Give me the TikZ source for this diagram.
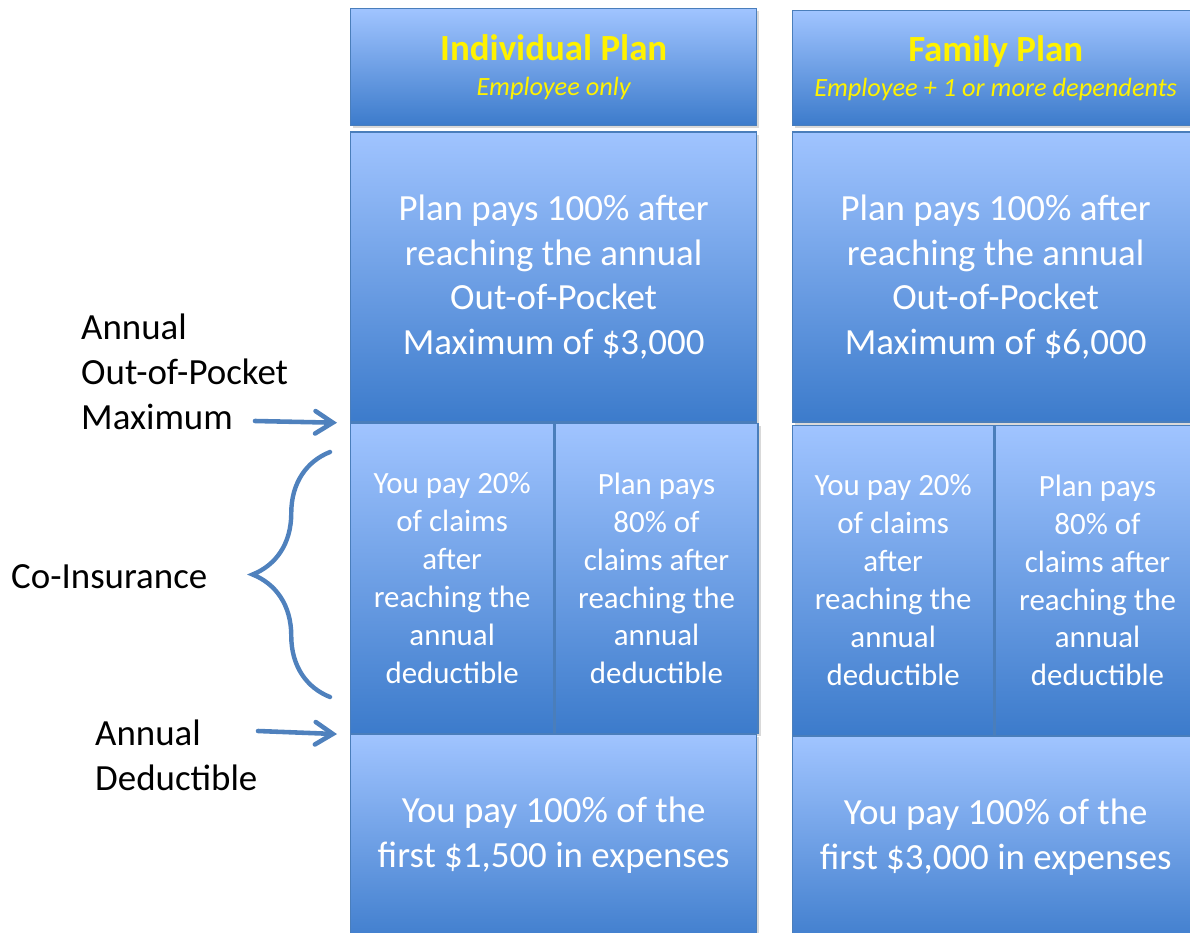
\documentclass[tikz,border=0pt]{standalone}
\usepackage{fontspec}
\setmainfont{Carlito}
\usepackage{xcolor}
\usetikzlibrary{positioning,shadows,arrows.meta,decorations.pathreplacing}
\definecolor{boxTop}{HTML}{A0C4FF}
\definecolor{boxBottom}{HTML}{3C7BCB}
\definecolor{boxLine}{HTML}{4A7EBB}
\definecolor{pointerBlue}{HTML}{4F81BD}

\begin{document}
\begin{tikzpicture}[x=0.02cm, y=-0.02cm,
planbox/.style={rectangle, draw=boxLine, line width=0.8pt, top color=boxTop, bottom color=boxBottom, drop shadow={opacity=0.3, shadow xshift=0.5mm, shadow yshift=-0.5mm}, inner sep=0pt, align=center, text=white, font=\fontsize{21}{25.6}\selectfont},
headbox/.style={planbox, text=yellow, font=\fontsize{21}{20}\selectfont\bfseries},
splitbox/.style={planbox, font=\fontsize{17.6}{21.6}\selectfont},
sidelabel/.style={anchor=west, align=left, font=\fontsize{21}{25.6}\selectfont},
pointer/.style={draw=pointerBlue, line width=2.6pt, line cap=round, -{Straight Barb[length=0.35cm, width=0.45cm, line cap=round]}},
bracket/.style={draw=pointerBlue, line width=2.5pt, line cap=round, decorate, decoration={brace, amplitude=1.55cm}},
]
\useasboundingbox (0,0) rectangle (1190,933);

% individual plan
\node[headbox, anchor=north west, minimum width=8.12cm, minimum height=2.34cm] (indHead) at (350,8) {Individual Plan\\{\itshape\mdseries\fontsize{15}{17}\selectfont Employee only}};
\node[planbox, minimum width=8.12cm, minimum height=5.8cm] (indMax) [below=0.1cm of indHead] {Plan pays 100\% after\\reaching the annual\\Out-of-Pocket\\Maximum of \$3,000};
\node[splitbox, minimum width=4.06cm, minimum height=6.2cm] (indYou) [below=0cm of indMax.south west, anchor=north west] {You pay 20\%\\of claims\\after\\reaching the\\annual\\deductible};
\node[splitbox, minimum width=4.06cm, minimum height=6.2cm] (indPlan) [right=0cm of indYou] {Plan pays\\80\% of\\claims after\\reaching the\\annual\\deductible};
\node[planbox, minimum width=8.12cm, minimum height=4.3cm, text depth=0.4cm] (indDed) [below=0cm of indYou.south west, anchor=north west] {You pay 100\% of the\\first \$1,500 in expenses};

% family plan
\node[headbox, anchor=north west, minimum width=8.12cm, minimum height=2.3cm] (famHead) at (792,10) {Family Plan\\{\itshape\mdseries\fontsize{15}{17}\selectfont Employee + 1 or more dependents}};
\node[planbox, minimum width=8.12cm, minimum height=5.8cm] (famMax) [below=0.1cm of famHead] {Plan pays 100\% after\\reaching the annual\\Out-of-Pocket\\Maximum of \$6,000};
\node[splitbox, minimum width=4.02cm, minimum height=6.2cm] (famYou) [below=0.04cm of famMax.south west, anchor=north west] {You pay 20\%\\of claims\\after\\reaching the\\annual\\deductible};
\node[splitbox, minimum width=4.1cm, minimum height=6.2cm] (famPlan) [right=0cm of famYou] {Plan pays\\80\% of\\claims after\\reaching the\\annual\\deductible};
\node[planbox, minimum width=8.12cm, minimum height=4.3cm, text depth=0.4cm] (famDed) [below=0cm of famYou.south west, anchor=north west] {You pay 100\% of the\\first \$3,000 in expenses};

% side labels
\node[sidelabel] (oopLabel) at (75,372) {Annual\\Out-of-Pocket\\Maximum};
\node[sidelabel] (coinsLabel) at (5,577) {Co-Insurance};
\node[sidelabel] (dedLabel) at (89,755) {Annual\\Deductible};

\coordinate (oopTail) at (255,421);
\coordinate (oopTip) at ([xshift=-0.26cm]indYou.north west);
\coordinate (dedTail) at (258,731);
\coordinate (dedTip) at ([xshift=-0.26cm]indDed.north west);
\coordinate (braceLow) at (330,697);
\coordinate (braceHigh) at (330,452);

\draw[pointer] (oopTail) -- (oopTip);
\draw[pointer] (dedTail) -- (dedTip);
\draw[bracket] (braceLow) -- (braceHigh);

\end{tikzpicture}
\end{document}
